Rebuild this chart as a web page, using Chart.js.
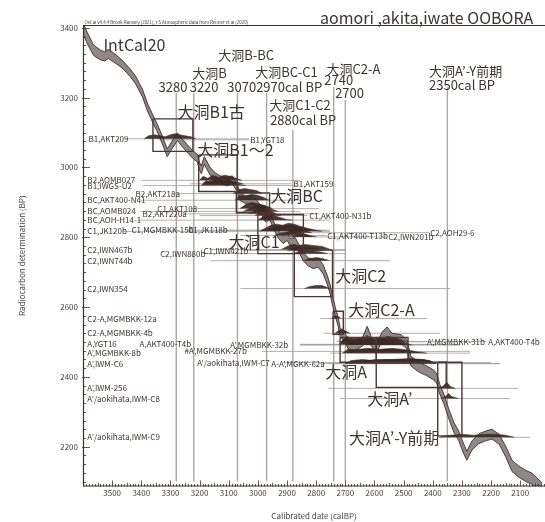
<!DOCTYPE html>
<html><head><meta charset="utf-8">
<script src="https://cdn.jsdelivr.net/npm/chart.js@4.4.1/dist/chart.umd.min.js"></script>
<style>html,body{margin:0;padding:0;background:#fff;}canvas{display:block;}</style>
</head><body>
<canvas id="c" width="545" height="522" style="width:545px;height:522px"></canvas>
<script>
// ---------- axis ranges & ticks ----------
const X_MIN = 2015, X_MAX = 3600;        // calibrated date (cal BP), reversed axis
const Y_MIN = 2086, Y_MAX = 3408;        // radiocarbon determination (BP)
const xTickValues = [3500,3400,3300,3200,3100,3000,2900,2800,2700,2600,2500,2400,2300,2200,2100];
const yTickValues = [3400,3200,3000,2800,2600,2400,2200];

// ---------- IntCal20 calibration curve ----------
const curveCal = [3598,3585,3564,3540,3525,3513,3495,3479,3462,3438,3420,3396,3379,3362,3345,3328,3311,3294,3276,3259,3239,3222,3208,3201,3194,3184,3163,3146,3129,3105,3088,3071,3061,3043,3019,3002,2985,2975,2958,2947,2930,2913,2899,2889,2872,2862,2845,2828,2810,2793,2776,2762,2752,2745,2734,2724,2718,2701,2684,2660,2640,2625,2611,2594,2574,2557,2540,2509,2489,2475,2448,2420,2396,2386,2376,2362,2345,2328,2311,2294,2283,2266,2242,2218,2197,2173,2149,2128,2104,2080,2059,2042,2025];
const curveBP  = [3395,3370,3336,3322,3318,3325,3315,3305,3293,3271,3251,3213,3173,3142,3113,3079,3042,3065,3088,3070,3051,3036,3027,3005,2993,3020,2988,2973,2965,2959,2965,2942,2916,2908,2908,2893,2873,2856,2859,2836,2808,2793,2802,2785,2788,2773,2745,2730,2722,2727,2708,2678,2650,2622,2585,2556,2528,2513,2482,2492,2502,2532,2502,2482,2515,2530,2512,2508,2493,2445,2428,2417,2405,2394,2365,2337,2294,2256,2231,2194,2174,2203,2223,2231,2236,2222,2185,2145,2128,2116,2108,2094,2080];
const curveErr = [16,16,15,14,13,13,13,12,11,11,11,11,11,11,11,11,11,11,11,11,11,11,11,11,11,11,11,11,11,11,11,11,11,11,11,11,11,11,11,11,11,11,11,11,11,11,12,12,12,13,13,13,13,13,13,13,13,13,13,13,13,13,13,13,13,13,13,13,13,14,14,14,14,14,14,14,14,14,14,14,13,13,14,14,14,14,15,16,16,16,16,16,16];

// ---------- samples ----------
const sampleNames = ['B1,AKT209','B1,YGT18','B2,AOMB027','B1,IWGS-U2','B1,AKT159','B2,AKT218a','BC,AKT400-N41','C1,AKT108','BC,AOMB024','B2,AKT220a','C1,AKT400-N31b','BC,AOH-H14-1','C1,JK120b','C1,MGMBKK-15b','C1,JK118b','C1,AKT400-T13b','C2,AOH29-6','C2,IWN201b','C2,IWN467b','C1,IWN421b','C2,IWN880b','C2,IWN744b','C2,IWN354','C2-A,MGMBKK-12a','C2-A,MGMBKK-4b','A,YGT16','A,AKT400-T4b','A’,MGMBKK-32b','A’,MGMBKK-31b','A,AKT400-T4b','A’,MGMBKK-8b','#A’,MGMBKK-27b','A’,IWM-C6','A’/aokihata,IWM-C7','A-A’,MGKK-62a','A’,IWM-256','A’/aokihata,IWM-C8','A’/aokihata,IWM-C9'];
const sampleBP = [3082,3079,2963,2948,2953,2925,2906,2882,2874,2867,2862,2849,2817,2820,2820,2805,2813,2801,2765,2762,2753,2733,2653,2567,2525,2493,2493,2491,2501,2501,2468,2473,2438,2441,2438,2367,2338,2227];
const sampleLabelCal = [3581,3026,3585,3585,2878,3420,3585,3345,3585,3396,2824,3585,3585,3434,3239,2762,2409,2553,3585,3187,3335,3585,3585,3585,3585,3585,3406,3095,2420,2210,3585,3252,3585,3208,2954,3585,3585,3585];
const sampleLineFrom = [3458,3340,3403,3396,3232,3290,3403,3232,3403,3260,3200,3413,3465,3238,3122,3060,2923,2889,3163,3052,3190,3163,3060,2786,2775,2855,2855,2855,2718,2730,2752,2985,2786,2913,2752,2760,2718,2375];
const sampleLineTo   = [3030,3030,2855,2865,2885,2855,2855,2790,2855,2790,2830,2752,2752,2752,2765,2765,2412,2556,2700,2700,2700,2546,2340,2420,2375,2306,2306,2306,2425,2215,2272,2272,2169,2200,2169,2107,2135,2066];
// calibrated probability (relative density) drawn on each date's line: [cal BP, density]
const sampleBlobs = [
 [[3390,0],[3375,3],[3355,4],[3335,3],[3318,2],[3300,4],[3285,5],[3268,4],[3250,3],[3230,2],[3212,0]],
 null,
 [[3200,0],[3188,4],[3172,2],[3155,5],[3135,3],[3115,5],[3095,4],[3075,2],[3055,0]],
 [[3195,0],[3178,5],[3160,3],[3140,6],[3120,4],[3100,6],[3082,3],[3060,1],[3040,0]],
 [[3185,0],[3165,3],[3135,4],[3105,3],[3075,2],[3050,0]],
 [[3085,0],[3065,4],[3045,5],[3025,4],[3005,3],[2985,0]],
 [[3078,0],[3062,5],[3042,4],[3022,6],[3002,5],[2982,3],[2962,0]],
 [[3062,0],[3042,4],[3022,6],[3000,5],[2975,3],[2950,0]],
 [[3050,0],[3030,3],[3010,5],[2990,6],[2970,4],[2950,2],[2930,0]],
 [[3030,0],[3005,4],[2985,5],[2962,3],[2935,0]],
 [[3010,0],[2990,3],[2970,4],[2950,2],[2920,0]],
 [[3000,0],[2980,4],[2960,6],[2940,4],[2905,1],[2880,0]],
 [[2995,0],[2975,3],[2955,6],[2935,7],[2915,6],[2895,8],[2875,7],[2855,5],[2830,3],[2800,1],[2780,0]],
 [[2965,0],[2935,4],[2905,5],[2875,4],[2845,2],[2815,0]],
 null,
 [[2945,0],[2915,3],[2885,4],[2855,3],[2825,0]],
 [[2905,0],[2875,3],[2845,3],[2815,0]],
 [[2890,0],[2862,2],[2832,2],[2800,0]],
 [[2920,0],[2900,3],[2880,5],[2860,4],[2840,5],[2810,4],[2780,3],[2750,0]],
 [[2900,0],[2870,3],[2840,3],[2800,2],[2770,0]],
 [[2880,0],[2850,3],[2820,3],[2790,2],[2760,0]],
 [[2845,0],[2822,2],[2800,3],[2778,2],[2755,0]],
 [[2840,0],[2822,2],[2802,3],[2780,3],[2762,1],[2750,0]],
 [[2748,0],[2736,3],[2726,2],[2714,0]],
 [[2735,0],[2722,3],[2710,4],[2698,2],[2685,0]],
 [[2722,0],[2702,6],[2682,4],[2662,5],[2642,3],[2622,6],[2602,4],[2582,5],[2562,6],[2542,4],[2520,3],[2500,2],[2480,0]],
 null,
 [[2700,0],[2680,3],[2650,4],[2620,3],[2590,4],[2560,3],[2520,2],[2470,0]],
 [[2715,0],[2695,5],[2670,3],[2640,4],[2620,5],[2600,3],[2570,4],[2550,5],[2520,3],[2490,0]],
 null,
 [[2710,0],[2690,4],[2660,3],[2630,4],[2600,3],[2560,4],[2520,3],[2480,2],[2440,1],[2420,0]],
 [[2690,0],[2660,2],[2620,3],[2580,2],[2540,3],[2500,2],[2460,0]],
 [[2700,0],[2680,3],[2640,4],[2600,3],[2560,4],[2520,4],[2480,3],[2440,4],[2410,3],[2390,0]],
 [[2650,0],[2600,3],[2540,3],[2480,4],[2430,3],[2395,0]],
 [[2700,0],[2660,3],[2600,3],[2540,3],[2480,4],[2420,3],[2390,0]],
 [[2382,0],[2366,2],[2352,6],[2340,2],[2322,0]],
 [[2372,0],[2356,2],[2346,5],[2335,2],[2312,0]],
 [[2380,0],[2340,2],[2300,3],[2260,2],[2220,3],[2180,3],[2150,2],[2120,0]]
];

// ---------- phase boxes ----------
const boxNames    = ['大洞B1古','大洞B1～2','大洞BC','大洞C1','大洞C2','大洞C2-A','大洞A','大洞A','大洞A’','大洞A’-Y前期'];
const boxCalOld   = [3360,3203,3074,3000,2875,2742,2718,2594,2594,2383];
const boxCalYoung = [3223,3071,2960,2844,2744,2707,2594,2485,2354,2300];
const boxBPTop    = [3139,3036,2927,2865,2763,2588,2513,2513,2442,2442];
const boxBPBottom = [3046,2931,2870,2753,2630,2522,2442,2442,2370,2231];

// ---------- boundary lines (cal BP) ----------
const boundaryCal   = [3280,3220,3070,2970,2880,2740,2700,2350];
const boundaryTopBP = [3213,3213,3213,3213,3107,3230,3193,3230];
const BOUNDARY_BOTTOM_BP = 2100;

// ---------- annotation texts [text, cal BP, BP] ----------
const boundaryTexts = [
 ['大洞B-BC',3136,3322],['大洞B',3225,3271],['大洞BC-C1',3009,3274],
 ['3280',3341,3231],['3220',3234,3231],['30702970cal BP',3105,3231],
 ['大洞C1-C2',2961,3179],['2880cal BP',2958,3136],
 ['大洞C2-A',2765,3283],['2740',2772,3251],['2700',2735,3213],
 ['大洞A’-Y前期',2413,3277],['2350cal BP',2413,3236]
];
const phaseTexts = [
 ['IntCal20',3530,3351],['大洞B1古',3276,3160],['大洞B1～2',3208,3051],['大洞BC',2958,2917],
 ['大洞C1',3101,2786],['大洞C2',2735,2689],['大洞C2-A',2690,2593],['大洞A',2769,2413],
 ['大洞A’',2625,2336],['大洞A’-Y前期',2687,2224]
];
const TITLE = 'aomori ,akita,iwate OOBORA';
const CREDIT = 'OxCal v4.4.4 Bronk Ramsey (2021); r:5 Atmospheric data from Reimer et al (2020)';

// ---------- styles ----------
const FONT = '"Noto Sans CJK JP","Noto Sans",sans-serif';
const INK = '#3d302c', TEXT = '#3d3431', BOX_INK = '#4b3632';
const CURVE_FILL = '#8e8888', CURVE_LINE = '#3e2e2a';
const BLOB = 'rgba(60,40,35,0.92)', HLINE = '#a29b99', VLINE = '#aca6a4';
const BLOB_BP_PER_UNIT = 2.9;

// ---------- datasets ----------
const datasets = [];
boxCalOld.forEach((c0, i) => {
  const c1 = boxCalYoung[i], t = boxBPTop[i], b = boxBPBottom[i];
  datasets.push({label: boxNames[i], data: [{x:c0,y:t},{x:c1,y:t},{x:c1,y:b},{x:c0,y:b},{x:c0,y:t}],
    showLine: true, borderColor: BOX_INK, borderWidth: 1.4, pointRadius: 0, fill: false, order: 0});
});
sampleBlobs.forEach((blob, i) => {
  if (!blob) return;
  datasets.push({label: sampleNames[i], data: blob.map(([c, d]) => ({x: c, y: sampleBP[i] + d * BLOB_BP_PER_UNIT})),
    showLine: true, fill: {value: sampleBP[i]}, backgroundColor: BLOB, borderColor: BLOB, borderWidth: 0.6, pointRadius: 0, order: 1});
});
datasets.push({label: 'IntCal20 upper', data: curveCal.map((c, i) => ({x: c, y: curveBP[i] + curveErr[i]})),
  showLine: true, borderColor: CURVE_LINE, borderWidth: 0.9, pointRadius: 0, fill: false, order: 2});
datasets.push({label: 'IntCal20 lower', data: curveCal.map((c, i) => ({x: c, y: curveBP[i] - curveErr[i]})),
  showLine: true, borderColor: CURVE_LINE, borderWidth: 0.9, pointRadius: 0, fill: '-1', backgroundColor: CURVE_FILL, order: 2});
sampleBP.forEach((bp, i) => {
  datasets.push({label: sampleNames[i] + ' line', data: [{x: sampleLineFrom[i], y: bp}, {x: sampleLineTo[i], y: bp}],
    showLine: true, borderColor: HLINE, borderWidth: 0.8, pointRadius: 0, fill: false, order: 3});
});
boundaryCal.forEach((c, i) => {
  datasets.push({label: 'boundary ' + c, data: [{x: c, y: boundaryTopBP[i]}, {x: c, y: BOUNDARY_BOTTOM_BP}],
    showLine: true, borderColor: VLINE, borderWidth: 1.4, pointRadius: 0, fill: false, order: 4});
});

// ---------- decoration plugin (axes ticks, texts) ----------
const decor = {
  id: 'decor',
  afterDatasetsDraw(chart) {
    const {ctx, chartArea: a, scales: {x, y}} = chart;
    ctx.save();
    ctx.strokeStyle = INK; ctx.lineWidth = 1.2;
    ctx.beginPath();
    ctx.moveTo(a.right, a.top + 0.5); ctx.lineTo(a.left + 0.5, a.top + 0.5);
    ctx.lineTo(a.left + 0.5, a.bottom - 0.5); ctx.lineTo(a.right, a.bottom - 0.5);
    ctx.stroke();
    ctx.lineWidth = 0.8;
    ctx.beginPath();
    for (let v = Math.ceil(X_MIN / 10) * 10; v <= X_MAX; v += 10) {
      const p = Math.round(x.getPixelForValue(v)) + 0.5;
      const len = v % 100 === 0 ? 6 : (v % 50 === 0 ? 3.5 : 2.5);
      ctx.moveTo(p, a.bottom); ctx.lineTo(p, a.bottom - len);
    }
    for (let v = Math.ceil(Y_MIN / 25) * 25; v <= Y_MAX; v += 25) {
      const p = Math.round(y.getPixelForValue(v)) + 0.5;
      const major = v % 200 === 0;
      ctx.moveTo(major ? a.left - 1 : a.left, p); ctx.lineTo(a.left + (major ? 7 : 3), p);
    }
    ctx.stroke();
    ctx.restore();
  },
  afterDraw(chart) {
    const {ctx, scales: {x, y}, chartArea: a} = chart;
    ctx.save();
    ctx.fillStyle = TEXT;
    ctx.textAlign = 'left'; ctx.textBaseline = 'middle';
    ctx.font = '8px ' + FONT;
    sampleNames.forEach((n, i) => ctx.fillText(n, x.getPixelForValue(sampleLabelCal[i]), y.getPixelForValue(sampleBP[i])));
    ctx.font = '13px ' + FONT;
    boundaryTexts.forEach(([t, c, b]) => ctx.fillText(t, x.getPixelForValue(c), y.getPixelForValue(b)));
    ctx.font = '16px ' + FONT;
    phaseTexts.forEach(([t, c, b]) => ctx.fillText(t, x.getPixelForValue(c), y.getPixelForValue(b)));
    ctx.textBaseline = 'alphabetic';
    ctx.font = '16px ' + FONT;
    ctx.fillText(TITLE, 320, a.top - 1.5);
    ctx.font = '4.4px ' + FONT;
    ctx.fillText(CREDIT, a.left + 1.5, a.top - 1.5);
    ctx.restore();
  }
};

new Chart(document.getElementById('c'), {
  type: 'scatter',
  data: {datasets},
  options: {
    responsive: false, animation: false, devicePixelRatio: 1,
    layout: {padding: {top: 25, right: 0, bottom: 0, left: 0}},
    elements: {line: {tension: 0}, point: {radius: 0}},
    plugins: {legend: {display: false}, tooltip: {enabled: false}},
    scales: {
      x: {
        type: 'linear', reverse: true, min: X_MIN, max: X_MAX,
        grid: {display: false, drawTicks: false}, border: {display: false},
        afterBuildTicks: s => { s.ticks = xTickValues.map(v => ({value: v})); },
        afterFit: s => { s.height = 35.5; s.paddingLeft = 0; s.paddingRight = 0; s.paddingTop = 0; s.paddingBottom = 0; },
        ticks: {autoSkip: false, maxRotation: 0, padding: 2, color: '#4a4040', font: {size: 8, family: FONT}, callback: v => String(v)},
        title: {display: true, text: 'Calibrated date (calBP)', color: '#4a4040', font: {size: 8, family: FONT}, padding: {top: 0, bottom: 1}}
      },
      y: {
        type: 'linear', min: Y_MIN, max: Y_MAX,
        grid: {display: false, drawTicks: false}, border: {display: false},
        afterBuildTicks: s => { s.ticks = yTickValues.map(v => ({value: v})); },
        afterFit: s => { s.width = 83; s.paddingLeft = 0; s.paddingRight = 0; s.paddingTop = 0; s.paddingBottom = 0; },
        ticks: {autoSkip: false, padding: 5, color: '#4a4040', font: {size: 8, family: FONT}, callback: v => String(v)},
        title: {display: true, text: 'Radiocarbon determination (BP)', color: '#4a4040', font: {size: 8, family: FONT}, padding: {top: 17.5, bottom: 0}}
      }
    }
  },
  plugins: [decor]
});
</script>
</body></html>
